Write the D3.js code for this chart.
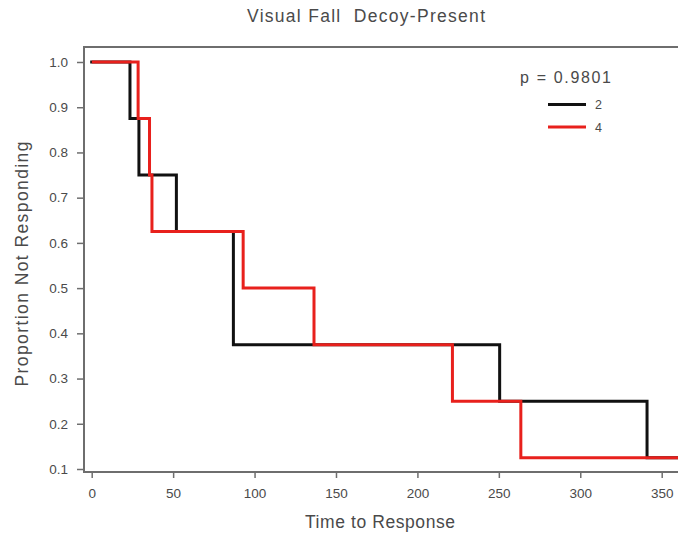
<!DOCTYPE html>
<html>
<head>
<meta charset="utf-8">
<script src="https://cdn.jsdelivr.net/npm/d3@7"></script>
<style>
  html, body { margin: 0; padding: 0; background: #fff; }
  svg { display: block; font-family: "Liberation Sans", Arial, sans-serif; }
  text { white-space: pre; }
</style>
</head>
<body>
<svg id="chart" width="678" height="539"></svg>
<script>
// ---- data ----
const title = "Visual Fall  Decoy-Present";
const xLabel = "Time to Response";
const yLabel = "Proportion Not Responding";
const pText = "p = 0.9801";
const xTicks = [0, 50, 100, 150, 200, 250, 300, 350];
const yTicks = [0.1, 0.2, 0.3, 0.4, 0.5, 0.6, 0.7, 0.8, 0.9, 1.0];
const groupNames = ["2", "4"];
const groupColors = ["#111111", "#e8201c"];
const timesGroup2 = [0, 23.5, 29, 52, 87, 250.5, 341, 365];
const survGroup2  = [1.0, 0.875, 0.75, 0.625, 0.375, 0.25, 0.125, 0.125];
const timesGroup4 = [1, 28.5, 35.5, 37, 93, 136.5, 221.5, 263.5, 365];
const survGroup4  = [1.0, 0.875, 0.75, 0.625, 0.5, 0.375, 0.25, 0.125, 0.125];

// ---- layout ----
const svg = d3.select("#chart");
const frameLeft = 84, frameTop = 47, frameBottom = 472, frameRight = 690;
const x = d3.scaleLinear().domain([0, 350]).range([91.7, 661.7]);
const y = d3.scaleLinear().domain([0.1, 1.0]).range([469, 62]);
const textColor = "#4a4a4a";
const axisColor = "#6e6e6e";
const fontFam = "Liberation Sans, Arial, sans-serif";

// title
svg.append("text").attr("x", 366).attr("y", 22).attr("text-anchor", "middle")
  .attr("font-size", 17.5).attr("textLength", 238).attr("lengthAdjust", "spacing")
  .attr("fill", textColor).text(title);

// frame
svg.append("path")
  .attr("d", `M${frameRight},${frameTop}H${frameLeft}V${frameBottom}H${frameRight}`)
  .attr("fill", "none").attr("stroke", axisColor).attr("stroke-width", 2);

// y axis
const yAxis = d3.axisLeft(y).tickValues(yTicks).tickFormat(d3.format(".1f"))
  .tickSize(7).tickPadding(9);
const gy = svg.append("g").attr("transform", `translate(${frameLeft},0)`).call(yAxis);
gy.select(".domain").remove();
gy.selectAll(".tick line").attr("stroke", axisColor).attr("stroke-width", 1.5);
gy.selectAll(".tick text").attr("fill", textColor).attr("font-size", 13.5)
  .attr("font-family", fontFam);

// x axis
const xAxis = d3.axisBottom(x).tickValues(xTicks).tickFormat(d3.format("d"))
  .tickSize(5).tickPadding(10);
const gx = svg.append("g").attr("transform", `translate(0,${frameBottom + 1})`).call(xAxis);
gx.select(".domain").remove();
gx.selectAll(".tick line").attr("stroke", axisColor).attr("stroke-width", 1.5);
gx.selectAll(".tick text").attr("fill", textColor).attr("font-size", 13.5)
  .attr("font-family", fontFam);

// axis labels
svg.append("text").attr("x", 380).attr("y", 528).attr("text-anchor", "middle")
  .attr("font-size", 17.5).attr("textLength", 150).attr("lengthAdjust", "spacing")
  .attr("fill", textColor).text(xLabel);
svg.append("text").attr("transform", "translate(28,264) rotate(-90)")
  .attr("text-anchor", "middle").attr("font-size", 17.5)
  .attr("textLength", 245).attr("lengthAdjust", "spacing")
  .attr("fill", textColor).text(yLabel);

// curves
const line = d3.line().x(d => x(d[0])).y(d => y(d[1])).curve(d3.curveStepAfter);
const series = [
  d3.zip(timesGroup2, survGroup2),
  d3.zip(timesGroup4, survGroup4)
];
svg.append("clipPath").attr("id", "plotclip")
  .append("rect").attr("x", frameLeft + 1).attr("y", frameTop + 1)
  .attr("width", 700).attr("height", frameBottom - frameTop - 2);
series.forEach((s, i) => {
  svg.append("path").datum(s).attr("d", line)
    .attr("clip-path", "url(#plotclip)")
    .attr("fill", "none").attr("stroke", groupColors[i]).attr("stroke-width", 3)
    .attr("stroke-linejoin", "miter").attr("stroke-linecap", "square");
});

// legend
svg.append("text").attr("x", 520).attr("y", 83).attr("font-size", 16)
  .attr("textLength", 91).attr("lengthAdjust", "spacing")
  .attr("fill", textColor).text(pText);
groupNames.forEach((g, i) => {
  const ly = 104.5 + i * 22.5;
  svg.append("line").attr("x1", 548).attr("x2", 586).attr("y1", ly).attr("y2", ly)
    .attr("stroke", groupColors[i]).attr("stroke-width", 3);
  svg.append("text").attr("x", 595).attr("y", ly + 4.5).attr("font-size", 12.5)
    .attr("fill", textColor).text(g);
});
</script>
</body>
</html>
